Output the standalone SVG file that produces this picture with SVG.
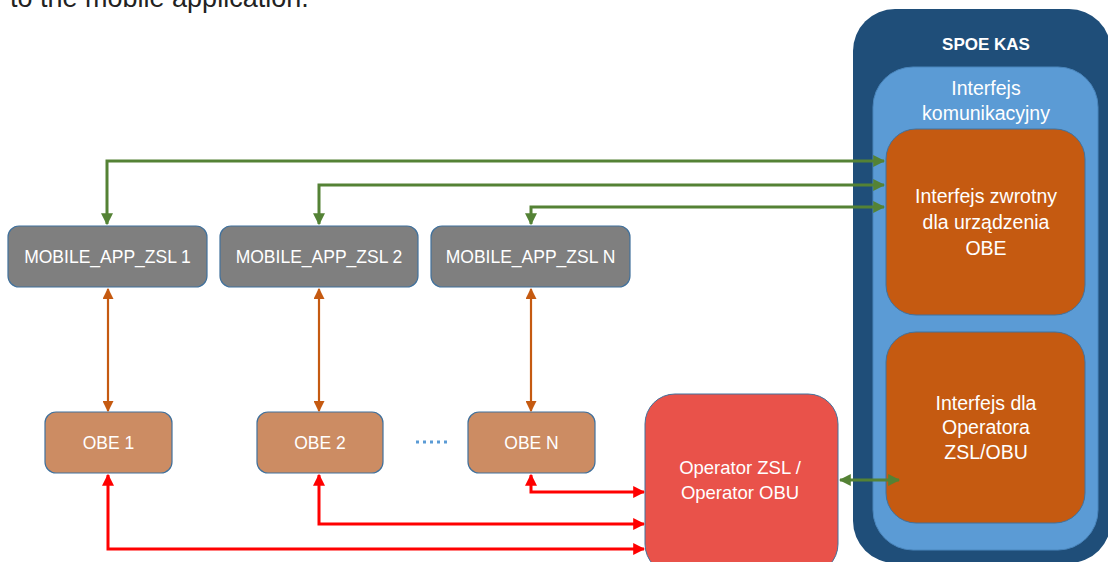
<svg xmlns="http://www.w3.org/2000/svg" width="1108" height="562" viewBox="0 0 1108 562">
<style>
text{font-family:"Liberation Sans","Open Sans",sans-serif;fill:#fff;text-anchor:middle}
.lbl{font-size:17.5px}
.big{font-size:19.5px}
.mob{fill:#7f7f7f;stroke:#41719c;stroke-width:1.2}
.obe{fill:#cc8c63;stroke:#41719c;stroke-width:1.2}
.g{stroke:#548235;stroke-width:3;fill:none}
.o{stroke:#c55a11;stroke-width:2.2;fill:none}
.r{stroke:#ff0000;stroke-width:3;fill:none}
</style>
<defs>
<marker id="ag" viewBox="0 0 10 10" refX="9" refY="5" markerWidth="4" markerHeight="4" orient="auto-start-reverse" markerUnits="strokeWidth"><path d="M0,0L10,5L0,10z" fill="#548235"/></marker>
<marker id="ao" viewBox="0 0 10 10" refX="9" refY="5" markerWidth="5" markerHeight="5" orient="auto-start-reverse" markerUnits="strokeWidth"><path d="M0,0L10,5L0,10z" fill="#c55a11"/></marker>
<marker id="ar" viewBox="0 0 10 10" refX="9" refY="5" markerWidth="4" markerHeight="4" orient="auto-start-reverse" markerUnits="strokeWidth"><path d="M0,0L10,5L0,10z" fill="#ff0000"/></marker>
</defs>
<rect width="1108" height="562" fill="#fff"/>
<text x="10" y="7" style="font-size:27px;fill:#222;text-anchor:start">to the mobile application.</text>

<g id="spoe-kas">
<rect x="853" y="9" width="258" height="554" rx="42" fill="#1f4e79"/>
<text x="986" y="50" style="font-size:17px;font-weight:bold">SPOE KAS</text>
</g>
<g id="interfejs-komunikacyjny">
<rect x="873" y="67" width="225" height="483" rx="40" fill="#5b9bd5" stroke="#4a86bd" stroke-width="1"/>
<text x="986" y="95" class="big">Interfejs</text>
<text x="986" y="120" class="big">komunikacyjny</text>
</g>
<g id="interfejs-zwrotny">
<rect x="886" y="129" width="199" height="186" rx="30" fill="#c55a11" stroke="#41719c" stroke-width="1"/>
<text x="986" y="203" class="big">Interfejs zwrotny</text>
<text x="986" y="229" class="big">dla urządzenia</text>
<text x="986" y="255" class="big">OBE</text>
</g>
<g id="interfejs-operatora">
<rect x="886" y="332" width="199" height="191" rx="30" fill="#c55a11" stroke="#41719c" stroke-width="1"/>
<text x="986" y="410" class="big">Interfejs dla</text>
<text x="986" y="434" class="big">Operatora</text>
<text x="986" y="459" class="big">ZSL/OBU</text>
</g>

<g id="mobile1"><rect x="8" y="226" width="199" height="61" rx="11" class="mob"/><text x="107.5" y="263" class="lbl">MOBILE_APP_ZSL 1</text></g>
<g id="mobile2"><rect x="220" y="226" width="198" height="61" rx="11" class="mob"/><text x="319" y="263" class="lbl">MOBILE_APP_ZSL 2</text></g>
<g id="mobileN"><rect x="431" y="226" width="199" height="61" rx="11" class="mob"/><text x="530.5" y="263" class="lbl">MOBILE_APP_ZSL N</text></g>

<g id="obe1"><rect x="45" y="412" width="127" height="61" rx="11" class="obe"/><text x="108.5" y="449" class="lbl">OBE 1</text></g>
<g id="obe2"><rect x="257" y="412" width="126" height="61" rx="11" class="obe"/><text x="320" y="449" class="lbl">OBE 2</text></g>
<g id="obeN"><rect x="468" y="412" width="127" height="61" rx="11" class="obe"/><text x="531.5" y="449" class="lbl">OBE N</text></g>

<g id="operator">
<rect x="645" y="394" width="193" height="180" rx="30" fill="#e9524a" stroke="#41719c" stroke-width="1"/>
<text x="740" y="474" style="font-size:18.5px">Operator ZSL /</text>
<text x="740" y="499" style="font-size:18.5px">Operator OBU</text>
</g>

<g id="connectors">
<path class="g" d="M884,161H107V224" marker-start="url(#ag)" marker-end="url(#ag)"/>
<path class="g" d="M884,185H319V224" marker-start="url(#ag)" marker-end="url(#ag)"/>
<path class="g" d="M884,207H531V224" marker-start="url(#ag)" marker-end="url(#ag)"/>
<path class="g" d="M840,480H899" marker-start="url(#ag)" marker-end="url(#ag)"/>
<path class="o" d="M108,289V411" marker-start="url(#ao)" marker-end="url(#ao)"/>
<path class="o" d="M319,289V411" marker-start="url(#ao)" marker-end="url(#ao)"/>
<path class="o" d="M531,289V411" marker-start="url(#ao)" marker-end="url(#ao)"/>
<path class="r" d="M531,475V492H644" marker-start="url(#ar)" marker-end="url(#ar)"/>
<path class="r" d="M319,475V524H644" marker-start="url(#ar)" marker-end="url(#ar)"/>
<path class="r" d="M108,475V549H644" marker-start="url(#ar)" marker-end="url(#ar)"/>
<path d="M416,442H448" stroke="#5b9bd5" stroke-width="3" stroke-dasharray="3,4" fill="none"/>
</g>
</svg>
